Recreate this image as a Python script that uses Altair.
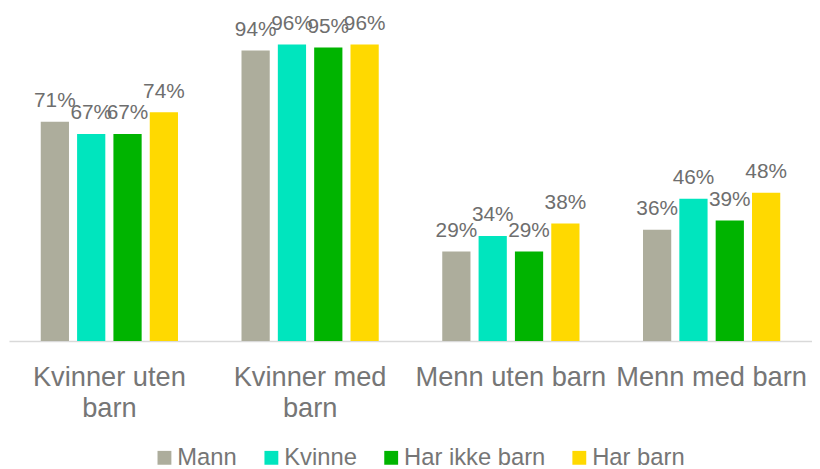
import altair as alt
import pandas as pd

categories = ["Kvinner uten|barn", "Kvinner med|barn", "Menn uten barn", "Menn med barn"]
series = ["Mann", "Kvinne", "Har ikke barn", "Har barn"]
colors = ["#ADAD9C", "#00E5BE", "#00B400", "#FFD900"]
values = {
    "Mann": [0.71, 0.94, 0.29, 0.36],
    "Kvinne": [0.67, 0.96, 0.34, 0.46],
    "Har ikke barn": [0.67, 0.95, 0.29, 0.39],
    "Har barn": [0.74, 0.96, 0.38, 0.48],
}

rows = []
for s in series:
    for c, v in zip(categories, values[s]):
        rows.append({"category": c, "series": s, "value": v})
df = pd.DataFrame(rows)

x = alt.X("category:N", sort=categories, title=None,
          scale=alt.Scale(paddingInner=0, paddingOuter=0),
          axis=alt.Axis(labelAngle=0, labelExpr="split(datum.value, '|')",
                        labelFontSize=27.5, labelColor="#767676", labelFont="Liberation Sans",
                        labelLineHeight=31, labelPadding=45, ticks=False, labelLimit=400,
                        domainColor="#D9D9D9", domainWidth=1.5, labelBaseline="alphabetic"))
y = alt.Y("value:Q", scale=alt.Scale(domain=[0, 1]), axis=None)
xo = alt.XOffset("series:N", sort=series, scale=alt.Scale(paddingInner=0.223, paddingOuter=0.874))

bars = alt.Chart(df).mark_bar().encode(
    x=x, y=y, xOffset=xo,
    color=alt.Color("series:N", sort=series,
                    scale=alt.Scale(domain=series, range=colors),
                    legend=alt.Legend(title=None, orient="none", direction="horizontal",
                                      legendX=145, legendY=418, symbolType="square",
                                      symbolSize=196, symbolStrokeWidth=0,
                                      labelFontSize=24, labelColor="#767676",
                                      labelFont="Liberation Sans", columnPadding=22,
                                      labelOffset=1)),
)
labels = alt.Chart(df).mark_text(baseline="alphabetic", dy=-15, fontSize=21,
                                 color="#6E6E6E", font="Liberation Sans").encode(
    x=x, y=y, xOffset=xo, text=alt.Text("value:Q", format=".0%"))

chart = (bars + labels).properties(
    width=811, height=312,
    autosize=alt.AutoSizeParams(type="none"),
    padding={"left": 1, "top": 22, "right": 0, "bottom": 127},
).configure_view(stroke=None)

chart.save("out.html", embed_options={"renderer": "svg", "actions": False})
